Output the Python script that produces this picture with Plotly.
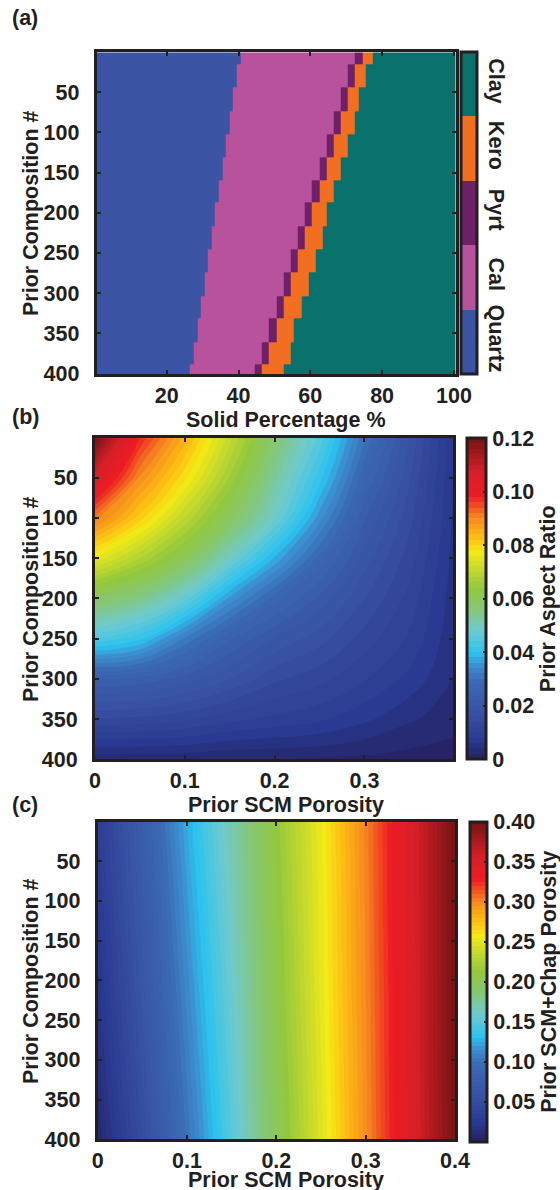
import plotly.graph_objects as go

# ---------------- (a) mineral make-up of each prior composition block ----------------
minerals = ["Quartz", "Cal", "Pyrt", "Kero", "Clay"]
mineral_colors = ["#3b54a3", "#b9529c", "#6e2069", "#f26f22", "#0b716c"]
block_first_row = [1, 16, 45, 74, 103, 131, 160, 188, 217, 246, 275, 304, 332, 361, 389]
last_row = 400
quartz_pct = [40, 39, 38, 37, 36, 35, 34, 33, 32, 31, 30, 29, 28, 27, 26]
calcite_pct = [32, 31, 30, 29, 28, 27, 26, 25, 24, 23, 22, 21, 20, 19, 18]
pyrite_pct = [2, 2, 2, 2, 2, 2, 2, 2, 2, 2, 2, 2, 2, 2, 2]
kerogen_pct = [3, 3, 3, 4, 4, 4, 4, 4, 5, 5, 5, 5, 5, 6, 6]
clay_pct = [23, 25, 27, 28, 30, 32, 34, 36, 37, 39, 41, 43, 45, 46, 48]

# ---------------- (b) prior aspect ratio ----------------
scm_porosity_b = [0.0, 0.05, 0.10, 0.15, 0.20, 0.25, 0.30, 0.35, 0.40]
composition_b = [1, 50, 100, 150, 200, 250, 300, 350, 400]
aspect_ratio = [
    [0.1200, 0.0980, 0.0850, 0.0708, 0.0569, 0.0453, 0.0303, 0.0180, 0.0060],
    [0.1060, 0.0896, 0.0786, 0.0657, 0.0527, 0.0410, 0.0263, 0.0163, 0.0058],
    [0.0913, 0.0810, 0.0697, 0.0590, 0.0484, 0.0349, 0.0223, 0.0147, 0.0055],
    [0.0758, 0.0680, 0.0600, 0.0490, 0.0377, 0.0274, 0.0190, 0.0130, 0.0052],
    [0.0584, 0.0544, 0.0470, 0.0354, 0.0270, 0.0215, 0.0160, 0.0113, 0.0048],
    [0.0441, 0.0406, 0.0317, 0.0244, 0.0199, 0.0168, 0.0131, 0.0097, 0.0044],
    [0.0240, 0.0234, 0.0211, 0.0180, 0.0145, 0.0127, 0.0102, 0.0074, 0.0038],
    [0.0137, 0.0134, 0.0124, 0.0107, 0.0095, 0.0084, 0.0065, 0.0043, 0.0030],
    [0.0025, 0.0025, 0.0025, 0.0020, 0.0020, 0.0018, 0.0015, 0.0012, 0.0008],
]

# ---------------- (c) prior SCM + Chapman porosity ----------------
scm_porosity_c = [0.0, 0.05, 0.10, 0.15, 0.20, 0.25, 0.30, 0.35, 0.40]
composition_c = [1, 100, 200, 300, 400]
total_porosity = [
    [0.030, 0.075, 0.125, 0.170, 0.212, 0.255, 0.302, 0.350, 0.400],
    [0.025, 0.069, 0.119, 0.165, 0.209, 0.253, 0.301, 0.350, 0.400],
    [0.019, 0.063, 0.113, 0.160, 0.206, 0.252, 0.300, 0.349, 0.400],
    [0.013, 0.057, 0.107, 0.155, 0.203, 0.250, 0.299, 0.349, 0.400],
    [0.006, 0.050, 0.101, 0.150, 0.200, 0.248, 0.298, 0.348, 0.399],
]

# jet-like map shared by panels (b) and (c)
jet_like = [
    [0.00, "#24215f"], [0.06, "#2a3a92"], [0.15, "#3953a4"], [0.24, "#3a6ab4"],
    [0.29, "#3d8ed0"], [0.33, "#2bc3ef"], [0.40, "#6fcad0"], [0.47, "#86c773"],
    [0.53, "#92c83e"], [0.60, "#cddc29"], [0.645, "#f4ea16"], [0.69, "#fdbe13"],
    [0.75, "#f68b1f"], [0.82, "#ed1c24"], [0.89, "#d71f27"], [1.00, "#751314"],
]

W, H = 560, 1190
INK = "#231f20"
FONT = dict(family="Liberation Sans, Arial, sans-serif", size=21.5, color=INK, weight="bold")


def xfrac(px):
    return px / W


def yfrac(py):
    return 1 - py / H


# build the category grid for (a) from the mineral percentages
row_edges = [r - 0.5 for r in block_first_row] + [last_row + 0.5]
col_edges = [c + 0.5 for c in range(0, 101)]
z_a = []
for i in range(len(block_first_row)):
    parts = [quartz_pct[i], calcite_pct[i], pyrite_pct[i], kerogen_pct[i], clay_pct[i]]
    row = []
    for code, n in enumerate(parts):
        row += [code] * n
    z_a.append(row[:100])

n_cat = len(minerals)
cat_scale = []
for k, col in enumerate(mineral_colors):
    cat_scale.append([k / n_cat, col])
    cat_scale.append([(k + 1) / n_cat, col])

fig = go.Figure()

fig.add_trace(go.Heatmap(
    x=col_edges, y=row_edges, z=z_a,
    zmin=-0.5, zmax=n_cat - 0.5, colorscale=cat_scale,
    xaxis="x", yaxis="y", hoverinfo="skip",
    colorbar=dict(
        x=xfrac(461), xanchor="left", xpad=0, ypad=0,
        y=yfrac(374), yanchor="bottom", len=(374 - 52.3) / H, lenmode="fraction",
        thickness=16, outlinewidth=3, outlinecolor=INK,
        tickvals=list(range(n_cat)), ticktext=minerals,
        ticks="outside", ticklen=2, tickcolor="rgba(0,0,0,0)",
        tickangle=90, tickfont=FONT,
    ),
))

fig.add_trace(go.Contour(
    x=scm_porosity_b, y=composition_b, z=aspect_ratio,
    zmin=0, zmax=0.12, colorscale=jet_like,
    contours=dict(start=0, end=0.12, size=0.002, coloring="fill", showlines=False),
    line=dict(width=0, smoothing=1.3),
    xaxis="x2", yaxis="y2", hoverinfo="skip",
    colorbar=dict(
        x=xfrac(466.7), xanchor="left", xpad=0, ypad=0,
        y=yfrac(759.3), yanchor="bottom", len=(759.3 - 438.3) / H, lenmode="fraction",
        thickness=19, outlinewidth=3, outlinecolor=INK,
        tickvals=[0, 0.02, 0.04, 0.06, 0.08, 0.10, 0.12],
        ticktext=["0", "0.02", "0.04", "0.06", "0.08", "0.10", "0.12"],
        ticks="inside", ticklen=4, tickwidth=2, tickcolor=INK,
        tickfont=FONT,
        title=dict(text="Prior Aspect Ratio", side="right", font=FONT),
    ),
))

fig.add_trace(go.Contour(
    x=scm_porosity_c, y=composition_c, z=total_porosity,
    zmin=0, zmax=0.40, colorscale=jet_like,
    contours=dict(start=0, end=0.40, size=0.005, coloring="fill", showlines=False),
    line=dict(width=0, smoothing=1.3),
    xaxis="x3", yaxis="y3", hoverinfo="skip",
    colorbar=dict(
        x=xfrac(470), xanchor="left", xpad=0, ypad=0,
        y=yfrac(1141.7), yanchor="bottom", len=(1141.7 - 821.7) / H, lenmode="fraction",
        thickness=17, outlinewidth=3, outlinecolor=INK,
        tickvals=[0.05, 0.10, 0.15, 0.20, 0.25, 0.30, 0.35, 0.40],
        ticktext=["0.05", "0.10", "0.15", "0.20", "0.25", "0.30", "0.35", "0.40"],
        ticks="inside", ticklen=4, tickwidth=2, tickcolor=INK,
        tickfont=FONT,
        title=dict(text="Prior SCM+Chap Porosity", side="right", font=FONT),
    ),
))

axis_style = dict(
    showline=True, mirror="ticks", linewidth=3, linecolor=INK,
    ticks="inside", ticklen=4, tickwidth=2, tickcolor=INK,
    showgrid=False, zeroline=False, tickfont=FONT,
)

comp_ticks = [50, 100, 150, 200, 250, 300, 350, 400]


def y_title(text, center_py):
    return dict(text=text, x=xfrac(31), y=yfrac(center_py), xref="paper", yref="paper",
                xanchor="center", yanchor="middle", textangle=-90,
                showarrow=False, font=FONT)


def x_title(text, center_py):
    return dict(text=text, x=xfrac(286), y=yfrac(center_py), xref="paper", yref="paper",
                xanchor="center", yanchor="middle", showarrow=False, font=FONT)


def panel_tag(text, py):
    return dict(text=text, x=xfrac(10), y=yfrac(py), xref="paper", yref="paper",
                xanchor="left", yanchor="middle", showarrow=False, font=FONT)


fig.update_layout(
    width=W, height=H,
    margin=dict(l=0, r=0, t=0, b=0, autoexpand=False),
    paper_bgcolor="white", plot_bgcolor="white",
    showlegend=False,
    xaxis=dict(axis_style, domain=[xfrac(96.7), xfrac(455.7)], anchor="y",
               range=[0.5, 100.5], tickvals=[20, 40, 60, 80, 100]),
    yaxis=dict(axis_style, domain=[yfrac(374), yfrac(52.3)], anchor="x",
               range=[400.5, 0.5], tickvals=comp_ticks, ticklabelstandoff=10),
    xaxis2=dict(axis_style, domain=[xfrac(95), xfrac(453.3)], anchor="y2",
                range=[0, 0.399], tickvals=[0, 0.1, 0.2, 0.3],
                ticktext=["0", "0.1", "0.2", "0.3"]),
    yaxis2=dict(axis_style, domain=[yfrac(759.3), yfrac(438.3)], anchor="x2",
                range=[400, 1], tickvals=comp_ticks, ticklabelstandoff=10),
    xaxis3=dict(axis_style, domain=[xfrac(97.7), xfrac(455)], anchor="y3",
                range=[0, 0.4], tickvals=[0, 0.1, 0.2, 0.3, 0.4],
                ticktext=["0", "0.1", "0.2", "0.3", "0.4"]),
    yaxis3=dict(axis_style, domain=[yfrac(1139.3), yfrac(822.3)], anchor="x3",
                range=[400, 1], tickvals=comp_ticks, ticklabelstandoff=10),
    annotations=[
        panel_tag("(a)", 18),
        panel_tag("(b)", 417),
        panel_tag("(c)", 805),
        y_title("Prior Composition #", 213),
        y_title("Prior Composition #", 599),
        y_title("Prior Composition #", 981),
        x_title("Solid Percentage %", 420),
        x_title("Prior SCM Porosity", 805),
        x_title("Prior SCM Porosity", 1180),
    ],
)

fig.write_html("out.html")
